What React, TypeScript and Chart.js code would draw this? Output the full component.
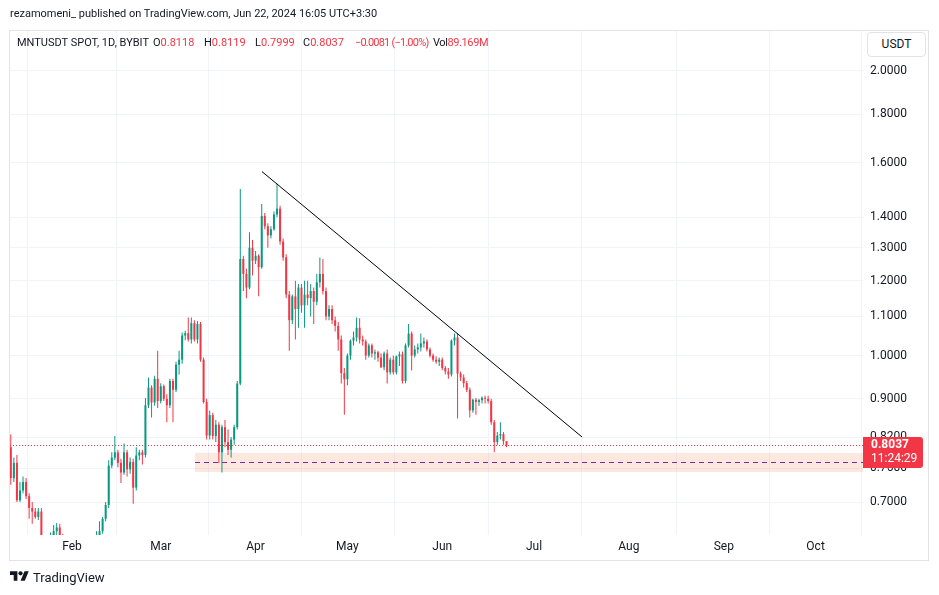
import React, { useEffect, useRef } from "react";
import { Chart, registerables } from "chart.js";

Chart.register(...registerables);

// day index: 0 = 1 Jan 2024 (daily candles, MNTUSDT, Bybit)
const firstDay = 11;

const opens = [
  0.80, 0.742, 0.77, 0.703, 0.72, 0.735, 0.71, 0.69, 0.684, 0.675,
  0.684, 0.64, 0.625, 0.632, 0.645, 0.652, 0.658, 0.645, 0.62, 0.61,
  0.615, 0.60, 0.59, 0.60, 0.61, 0.60, 0.595, 0.61, 0.625, 0.645,
  0.652, 0.672, 0.695, 0.765, 0.78, 0.79, 0.77, 0.752, 0.79, 0.758,
  0.772, 0.725, 0.784, 0.79, 0.785, 0.886, 0.925, 0.892, 0.945, 0.895,
  0.928, 0.90, 0.886, 0.94, 0.92, 0.978, 0.99, 1.05, 1.056, 1.04,
  1.082, 1.04, 1.08, 0.99, 0.893, 0.823, 0.865, 0.822, 0.845, 0.79,
  0.84, 0.81, 0.795, 0.815, 0.84, 0.934, 1.265, 1.22, 1.18, 1.30,
  1.26, 1.275, 1.24, 1.405, 1.37, 1.34, 1.36, 1.41, 1.43, 1.32,
  1.27, 1.16, 1.09, 1.155, 1.12, 1.18, 1.13, 1.16, 1.15, 1.17,
  1.14, 1.195, 1.22, 1.17, 1.10, 1.12, 1.09, 1.075, 1.04, 0.958,
  0.944, 1.0, 1.037, 1.045, 1.07, 1.04, 1.035, 1.0, 1.025, 1.005,
  1.008, 0.995, 0.972, 1.005, 0.96, 0.99, 0.96, 0.998, 1.003, 0.94,
  1.025, 1.055, 1.0, 1.015, 1.02, 1.03, 1.035, 1.015, 1.0, 0.99,
  0.985, 0.99, 0.97, 0.962, 0.955, 1.037, 1.045, 0.957, 0.948, 0.935,
  0.92, 0.875, 0.898, 0.893, 0.897, 0.902, 0.90, 0.895, 0.85, 0.81,
  0.823, 0.826, 0.8118,
];
const highs = [
  0.825, 0.78, 0.785, 0.735, 0.745, 0.742, 0.715, 0.70, 0.69, 0.69,
  0.69, 0.645, 0.64, 0.65, 0.662, 0.665, 0.664, 0.648, 0.63, 0.625,
  0.62, 0.61, 0.605, 0.615, 0.62, 0.61, 0.615, 0.63, 0.652, 0.668,
  0.675, 0.70, 0.775, 0.79, 0.822, 0.795, 0.778, 0.807, 0.795, 0.78,
  0.778, 0.80, 0.795, 0.795, 0.902, 0.948, 0.93, 0.952, 1.012, 0.935,
  0.932, 0.91, 0.945, 0.945, 0.985, 1.012, 1.058, 1.062, 1.097, 1.097,
  1.09, 1.088, 1.085, 0.995, 0.90, 0.875, 0.87, 0.855, 0.85, 0.845,
  0.855, 0.835, 0.82, 0.845, 0.94, 1.50, 1.275, 1.235, 1.35, 1.325,
  1.29, 1.28, 1.446, 1.415, 1.38, 1.37, 1.42, 1.52, 1.44, 1.33,
  1.28, 1.17, 1.16, 1.20, 1.19, 1.19, 1.20, 1.20, 1.19, 1.18,
  1.22, 1.27, 1.265, 1.18, 1.13, 1.13, 1.10, 1.085, 1.05, 0.97,
  1.005, 1.04, 1.06, 1.097, 1.095, 1.05, 1.04, 1.03, 1.03, 1.015,
  1.012, 1.005, 1.01, 1.015, 0.995, 1.0, 1.0, 1.01, 1.01, 1.03,
  1.08, 1.06, 1.025, 1.03, 1.055, 1.045, 1.04, 1.02, 1.005, 0.998,
  0.995, 0.995, 0.975, 0.97, 1.04, 1.055, 1.055, 0.962, 0.955, 0.94,
  0.925, 0.90, 0.902, 0.90, 0.905, 0.907, 0.907, 0.90, 0.855, 0.83,
  0.85, 0.83, 0.8119,
];
const lows = [
  0.73, 0.735, 0.70, 0.70, 0.715, 0.705, 0.672, 0.664, 0.672, 0.67,
  0.63, 0.615, 0.61, 0.625, 0.64, 0.645, 0.635, 0.61, 0.60, 0.595,
  0.59, 0.58, 0.585, 0.59, 0.595, 0.585, 0.59, 0.605, 0.62, 0.64,
  0.648, 0.668, 0.69, 0.76, 0.775, 0.762, 0.733, 0.748, 0.745, 0.75,
  0.697, 0.72, 0.775, 0.767, 0.78, 0.88, 0.86, 0.885, 0.88, 0.89,
  0.895, 0.85, 0.88, 0.85, 0.915, 0.955, 0.98, 1.038, 1.035, 1.03,
  1.035, 1.03, 0.985, 0.89, 0.815, 0.815, 0.815, 0.81, 0.77, 0.752,
  0.80, 0.785, 0.78, 0.805, 0.835, 0.93, 1.17, 1.15, 1.175, 1.215,
  1.25, 1.155, 1.235, 1.36, 1.30, 1.33, 1.355, 1.40, 1.31, 1.26,
  1.15, 1.012, 1.08, 1.04, 1.07, 1.11, 1.07, 1.13, 1.10, 1.08,
  1.13, 1.18, 1.16, 1.09, 1.09, 1.08, 1.06, 1.012, 0.934, 0.866,
  0.93, 0.99, 1.025, 1.035, 1.03, 1.025, 0.99, 0.995, 0.995, 0.99,
  0.985, 0.97, 0.965, 0.934, 0.955, 0.955, 0.955, 0.975, 0.934, 0.935,
  1.02, 0.964, 0.995, 1.005, 1.01, 1.02, 1.01, 0.995, 0.985, 0.98,
  0.975, 0.965, 0.955, 0.945, 0.95, 1.025, 0.858, 0.94, 0.925, 0.915,
  0.86, 0.87, 0.866, 0.885, 0.89, 0.89, 0.89, 0.845, 0.79, 0.805,
  0.815, 0.805, 0.7999,
];
const closes = [
  0.742, 0.77, 0.703, 0.72, 0.735, 0.71, 0.69, 0.684, 0.675, 0.684,
  0.64, 0.625, 0.632, 0.645, 0.652, 0.658, 0.645, 0.62, 0.61, 0.615,
  0.60, 0.59, 0.60, 0.61, 0.60, 0.595, 0.61, 0.625, 0.645, 0.652,
  0.672, 0.695, 0.765, 0.78, 0.79, 0.77, 0.752, 0.79, 0.758, 0.772,
  0.725, 0.784, 0.79, 0.785, 0.886, 0.925, 0.892, 0.945, 0.895, 0.928,
  0.90, 0.886, 0.94, 0.92, 0.978, 0.99, 1.05, 1.056, 1.04, 1.082,
  1.04, 1.08, 0.99, 0.893, 0.823, 0.865, 0.822, 0.845, 0.79, 0.84,
  0.81, 0.795, 0.815, 0.84, 0.934, 1.265, 1.22, 1.18, 1.30, 1.26,
  1.275, 1.24, 1.405, 1.37, 1.34, 1.36, 1.41, 1.43, 1.32, 1.27,
  1.16, 1.09, 1.155, 1.12, 1.18, 1.13, 1.16, 1.15, 1.17, 1.14,
  1.195, 1.22, 1.17, 1.10, 1.12, 1.09, 1.075, 1.04, 0.958, 0.944,
  1.0, 1.037, 1.045, 1.07, 1.04, 1.035, 1.0, 1.025, 1.005, 1.008,
  0.995, 0.972, 1.005, 0.96, 0.99, 0.96, 0.998, 1.003, 0.94, 1.025,
  1.055, 1.0, 1.015, 1.02, 1.03, 1.035, 1.015, 1.0, 0.99, 0.985,
  0.99, 0.97, 0.962, 0.955, 1.037, 1.045, 0.957, 0.948, 0.935, 0.92,
  0.875, 0.898, 0.893, 0.897, 0.902, 0.90, 0.895, 0.85, 0.81, 0.823,
  0.826, 0.8118, 0.8037,
];

const monthTicks = [31, 60, 91, 121, 152, 182, 213, 244, 274];
const monthLabels = ["Feb", "Mar", "Apr", "May", "Jun", "Jul", "Aug", "Sep", "Oct"];
const priceTicks = [0.7, 0.76, 0.82, 0.9, 1.0, 1.1, 1.2, 1.3, 1.4, 1.6, 1.8, 2.0];

const xMin = 10.74;
const xMax = 289.5;
const yMin = 0.646;
const yMax = 2.204;

const trendDays = [93.1, 197.7];
const trendPrices = [1.565, 0.82];

const zoneStartDay = 71.2;
const zoneTop = 0.789;
const zoneBottom = 0.753;
const zoneMid = 0.7716;

const lastPrice = 0.8037;
const countdown = "11:24:29";

const UP = "#089981";
const DOWN = "#F23645";
const TEXT = "#131722";
const GRID = "#f0f3fa";
const FONT = "Roboto, 'Liberation Sans', sans-serif";

const overlayPlugin = {
  id: "overlay",
  beforeDatasetsDraw(chart: any) {
    const { ctx, chartArea: a, scales } = chart;
    const x = scales.x;
    const y = scales.y;
    ctx.save();
    const zx = x.getPixelForValue(zoneStartDay);
    const zt = y.getPixelForValue(zoneTop);
    const zb = y.getPixelForValue(zoneBottom);
    ctx.fillStyle = "rgba(244, 120, 70, 0.17)";
    ctx.fillRect(zx, zt, a.right - zx, zb - zt);

    const lp = Math.round(y.getPixelForValue(lastPrice)) + 0.5;
    ctx.strokeStyle = DOWN;
    ctx.lineWidth = 1;
    ctx.setLineDash([1, 2]);
    ctx.beginPath();
    ctx.moveTo(a.left, lp);
    ctx.lineTo(a.right, lp);
    ctx.stroke();
    ctx.restore();
  },
  afterDatasetsDraw(chart: any) {
    const { ctx, chartArea: a, scales } = chart;
    const x = scales.x;
    const y = scales.y;
    ctx.save();
    const zx = x.getPixelForValue(zoneStartDay);
    const zm = Math.round(y.getPixelForValue(zoneMid)) + 0.5;
    ctx.strokeStyle = "#7e2b96";
    ctx.lineWidth = 1;
    ctx.setLineDash([5, 4]);
    ctx.beginPath();
    ctx.moveTo(zx, zm);
    ctx.lineTo(a.right, zm);
    ctx.stroke();
    ctx.restore();
  },
  afterDraw(chart: any) {
    const { ctx, chartArea: a, scales } = chart;
    const y = scales.y;
    const lp = y.getPixelForValue(lastPrice);
    const left = a.right;
    const top = Math.round(lp) - 8;
    const w = 60;
    const h = 31;
    ctx.save();
    ctx.fillStyle = DOWN;
    ctx.beginPath();
    (ctx as any).roundRect(left, top, w, h, [0, 3, 3, 0]);
    ctx.fill();
    ctx.fillStyle = "#ffffff";
    ctx.textBaseline = "middle";
    ctx.textAlign = "left";
    ctx.font = `bold 12px ${FONT}`;
    ctx.fillText(lastPrice.toFixed(4), left + 8, top + 8);
    ctx.font = `12px ${FONT}`;
    ctx.fillText(countdown, left + 8, top + 22);
    ctx.restore();
  },
};

export default function App() {
  const ref = useRef<HTMLCanvasElement>(null);

  useEffect(() => {
    const days = opens.map((_, i) => firstDay + i);
    const colors = opens.map((o, i) => (closes[i] >= o ? UP : DOWN));
    const chart = new Chart(ref.current as HTMLCanvasElement, {
      type: "bar",
      data: {
        datasets: [
          {
            type: "line",
            data: trendDays.map((d, i) => ({ x: d, y: trendPrices[i] })),
            borderColor: "#000000",
            borderWidth: 1,
            pointRadius: 0,
            clip: 0,
          } as any,
          {
            data: days.map((d, i) => ({ x: d, y: [opens[i], closes[i]] })),
            backgroundColor: colors,
            borderWidth: 0,
            grouped: false,
            maxBarThickness: 2,
            categoryPercentage: 1,
            barPercentage: 1,
            inflateAmount: 0,
            minBarLength: 1,
            clip: 0,
          } as any,
          {
            data: days.map((d, i) => ({ x: d, y: [lows[i], highs[i]] })),
            backgroundColor: colors,
            borderWidth: 0,
            grouped: false,
            maxBarThickness: 1,
            categoryPercentage: 1,
            barPercentage: 1,
            inflateAmount: 0,
            clip: 0,
          } as any,
        ],
      },
      options: {
        animation: false,
        responsive: false,
        events: [],
        layout: { padding: { left: 10, top: 31, right: 11, bottom: 35 } },
        plugins: { legend: { display: false }, tooltip: { enabled: false } },
        scales: {
          x: {
            type: "linear",
            bounds: "data",
            min: xMin,
            max: xMax,
            offset: false,
            border: { display: false },
            grid: { color: GRID, drawTicks: false },
            ticks: {
              autoSkip: false,
              maxRotation: 0,
              padding: 5,
              color: TEXT,
              font: { family: FONT, size: 12 },
              callback: (_v: any, i: number) => monthLabels[i],
            },
            afterBuildTicks: (s: any) => {
              s.ticks = monthTicks.map((v) => ({ value: v }));
            },
            afterFit: (s: any) => {
              s.height = 25;
            },
          },
          y: {
            type: "logarithmic",
            bounds: "data",
            position: "right",
            min: yMin,
            max: yMax,
            border: { display: false },
            grid: { color: GRID, drawTicks: false },
            ticks: {
              autoSkip: false,
              padding: 7,
              color: TEXT,
              font: { family: FONT, size: 12 },
              callback: (v: any) => Number(v).toFixed(4),
            },
            afterBuildTicks: (s: any) => {
              s.ticks = priceTicks.map((v) => ({ value: v }));
            },
            afterDataLimits: (s: any) => {
              s.min = yMin;
              s.max = yMax;
            },
            afterFit: (s: any) => {
              s.width = 65;
            },
          },
        },
      } as any,
      plugins: [overlayPlugin],
    });
    return () => chart.destroy();
  }, []);

  const seg = (left: number, children: React.ReactNode, spacing = 0) => (
    <div
      style={{
        position: "absolute",
        left,
        top: 35,
        fontSize: 11,
        lineHeight: "16px",
        whiteSpace: "nowrap",
        letterSpacing: spacing,
      }}
    >
      {children}
    </div>
  );
  const red = (t: string) => <span style={{ color: DOWN }}>{t}</span>;

  return (
    <div
      style={{
        position: "absolute",
        left: 0,
        top: 0,
        width: 939,
        height: 595,
        background: "#ffffff",
        overflow: "hidden",
        fontFamily: FONT,
        color: TEXT,
      }}
    >
      <canvas ref={ref} width={939} height={595} style={{ position: "absolute", left: 0, top: 0 }} />
      <div
        style={{
          position: "absolute",
          left: 9,
          top: 30,
          width: 918,
          height: 529,
          border: "1px solid #e0e3eb",
          pointerEvents: "none",
        }}
      />
      <div style={{ position: "absolute", left: 10, top: 6, fontSize: 11, lineHeight: "16px", whiteSpace: "nowrap" }}>
        rezamomeni_ published on TradingView.com, Jun 22, 2024 16:05 UTC+3:30
      </div>
      {seg(17, "MNTUSDT SPOT, 1D, BYBIT")}
      {seg(153, <>O{red("0.8118")}</>)}
      {seg(204, <>H{red("0.8119")}</>)}
      {seg(255, <>L{red("0.7999")}</>)}
      {seg(303, <>C{red("0.8037")}</>)}
      {seg(355, red("−0.0081 (−1.00%)"), -0.8)}
      {seg(433, <>Vol{red("89.169M")}</>, -0.4)}
      <div
        style={{
          position: "absolute",
          left: 867,
          top: 32,
          width: 57,
          height: 23,
          border: "1px solid #e0e3eb",
          borderRadius: 4,
          background: "#ffffff",
          fontSize: 12,
          lineHeight: "23px",
          textAlign: "center",
        }}
      >
        USDT
      </div>
      <svg width="19" height="15" viewBox="0 0 36 28" style={{ position: "absolute", left: 10, top: 569 }}>
        <path d="M14 22H7V11H0V4h14v18zM28 22h-8l7.5-18h8L28 22z" fill={TEXT} />
        <circle cx="20" cy="8" r="4" fill={TEXT} />
      </svg>
      <div style={{ position: "absolute", left: 33, top: 569, fontSize: 13, lineHeight: "18px", whiteSpace: "nowrap" }}>
        TradingView
      </div>
    </div>
  );
}
